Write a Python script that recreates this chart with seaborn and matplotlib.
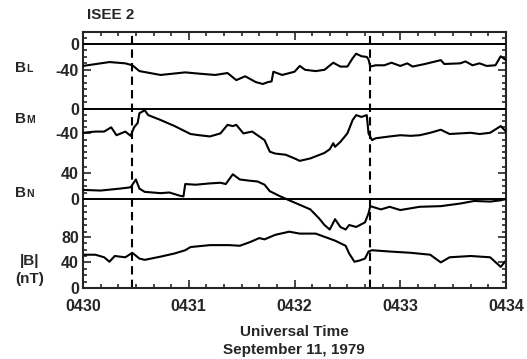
import matplotlib
matplotlib.use("Agg")
import matplotlib.pyplot as plt
import seaborn as sns
from matplotlib.ticker import FixedLocator, FixedFormatter, MultipleLocator

# ---------------- data (time in seconds after 04:30:00 UT, field in nT) -------------
t_bl = [0, 10, 15, 24, 28, 32, 44, 58, 66, 75, 82, 87, 92, 98, 102, 105, 107, 108,
        113, 120, 123, 126, 132, 137, 142, 146, 150, 153, 155, 158, 161, 162, 163,
        166, 171, 175, 180, 184, 187, 194, 203, 205, 214, 217, 221, 225, 229, 234, 237, 240]
bl = [-34, -30, -28, -30, -33, -42, -48, -44, -46, -48, -45, -56, -50, -59, -62, -59, -58, -43,
      -48, -43, -34, -40, -42, -40, -29, -35, -35, -22, -15, -19, -20, -24, -35,
      -33, -33, -29, -34, -30, -35, -31, -25, -31, -30, -27, -33, -30, -34, -33, -19, -25]

t_bm = [0, 7, 12, 16, 19, 24, 27, 29, 31, 32, 35, 37, 44, 52, 61, 66, 72, 78, 82, 85, 87,
        91, 96, 100, 103, 106, 109, 115, 120, 123, 129, 137, 140, 142, 143, 146, 150, 153,
        155, 158, 161, 162, 164, 166, 174, 180, 186, 191, 197, 203, 208, 214, 220, 225,
        231, 237, 240]
bm = [-39, -37, -37, -30, -43, -37, -44, -30, -23, -7, -2, -10, -18, -28, -41, -43, -45, -40,
      -26, -28, -26, -40, -37, -45, -51, -70, -73, -75, -81, -85, -81, -72, -66, -56, -62,
      -54, -40, -18, -10, -13, -10, -40, -51, -48, -45, -43, -44, -43, -39, -34, -41, -40,
      -39, -41, -39, -28, -37]

t_bn = [0, 10, 21, 27, 30, 32, 35, 44, 49, 55, 57, 58, 64, 72, 78, 81, 85, 89, 95, 99, 103,
        106, 112, 117, 123, 129, 134, 137, 140, 143, 146, 149, 151, 155, 160, 162, 163,
        169, 174, 180, 191, 203, 214, 222, 231, 237, 240]
bn = [14, 13, 16, 18, 30, 16, 11, 9, 10, 5, 4, 23, 22, 24, 25, 23, 38, 30, 28, 27, 22,
      12, 4, -2, -9, -16, -30, -40, -47, -31, -43, -47, -40, -43, -36, -22, -11,
      -16, -12, -17, -12, -11, -7, -3, -4, -2, 0]

t_bt = [0, 7, 12, 15, 18, 24, 28, 32, 35, 44, 52, 58, 61, 72, 83, 89, 95, 100, 103, 109,
        117, 123, 132, 137, 143, 149, 151, 154, 157, 160, 162, 164, 174, 186, 197, 203,
        208, 220, 231, 237, 240]
bt = [52, 52, 48, 41, 50, 48, 55, 46, 44, 49, 54, 59, 64, 67, 67, 66, 72, 78, 76, 83,
      88, 85, 85, 80, 74, 66, 54, 41, 43, 46, 57, 59, 57, 55, 52, 40,
      48, 50, 48, 33, 43]

boundaries = [28, 163]
x_ticks = [0, 60, 120, 180, 240]
x_labels = ["0430", "0431", "0432", "0433", "0434"]

# ---------------- layout ----------------
sns.set_style("ticks")
plt.rcParams['font.family'] = ['Liberation Sans', 'DejaVu Sans']
plt.rcParams['font.weight'] = 'bold'
plt.rcParams['axes.unicode_minus'] = False

W, H = 527, 359
fig = plt.figure(figsize=(W / 100, H / 100), dpi=100)
L, R, T, B = 83, 506, 32, 288
rect = [L / W, 1 - B / H, (R - L) / W, (B - T) / H]

panels = [
    dict(t=t_bl, v=bl, zero=44, s=0.645, major=[0, -40], band=(-100, 10), zline=True),
    dict(t=t_bm, v=bm, zero=109, s=0.61, major=[0, -40], band=(-80, -10), zline=True),
    dict(t=t_bn, v=bn, zero=199, s=0.65, major=[40, 0], band=(-50, 50), zline=True),
    dict(t=t_bt, v=bt, zero=288, s=0.64, major=[80, 40, 0], band=(10, 80), zline=False),
]

base = fig.add_axes(rect, label="base")
axes = [fig.add_axes(rect, label=f"p{i}") for i in range(3)] + [base]

for ax, p in zip(axes, panels):
    ax.patch.set_visible(False)
    sns.lineplot(x=p["t"], y=p["v"], ax=ax, color="black", lw=1.5)
    if p["zline"]:
        ax.axhline(0, color="black", lw=1.4)
    ax.set_ylim(-(B - p["zero"]) / p["s"], (p["zero"] - T) / p["s"])
    ax.set_xlim(0, 240)
    ax.set_xlabel("")
    ax.set_ylabel("")
    ax.yaxis.set_major_locator(FixedLocator(p["major"]))
    ax.yaxis.set_major_formatter(FixedFormatter([str(m) for m in p["major"]]))
    lo, hi = p["band"]
    minors = [m for m in range(lo, hi + 1, 10) if m not in p["major"]]
    ax.yaxis.set_minor_locator(FixedLocator(minors))
    ax.tick_params(axis="y", which="both", direction="in", left=True, right=True,
                   labelleft=True, labelright=False, width=1.2)
    ax.tick_params(axis="y", which="major", length=6, labelsize=11.5, pad=3)
    ax.tick_params(axis="y", which="minor", length=3)
    for lab in ax.get_yticklabels():
        lab.set_fontweight("bold")
    if ax is not base:
        for sp in ax.spines.values():
            sp.set_visible(False)
        ax.tick_params(axis="x", which="both", bottom=False, top=False,
                       labelbottom=False)

for sp in base.spines.values():
    sp.set_visible(True)
    sp.set_linewidth(1.5)
base.set_xticks(x_ticks)
base.set_xticklabels(x_labels, fontweight="bold")
base.xaxis.set_minor_locator(MultipleLocator(10))
base.tick_params(axis="x", which="both", direction="in", top=True, bottom=True, width=1.2)
base.tick_params(axis="x", which="major", length=6, labelsize=11.5, pad=8)
base.tick_params(axis="x", which="minor", length=3)
for b in boundaries:
    base.axvline(b, color="black", lw=1.5, ls=(0, (4, 2.5)))

# ---------------- texts ----------------
def fy(py):
    return 1 - py / H

def comp_label(px, py, main, sub):
    fig.text(px / W, fy(py), main, fontsize=11, fontweight="bold", va="baseline", ha="left")
    fig.text((px + 11) / W, fy(py), sub, fontsize=7.5, fontweight="bold", va="baseline", ha="left")

comp_label(15, 72, "B", "L")
comp_label(15, 123, "B", "M")
comp_label(15, 197, "B", "N")
fig.text(30 / W, fy(265), "|B|", fontsize=11, fontweight="bold", va="baseline", ha="center")
fig.text(30 / W, fy(283), "(nT)", fontsize=11, fontweight="bold", va="baseline", ha="center")

fig.text(87 / W, fy(19), "ISEE 2", fontsize=11, fontweight="bold", va="baseline", ha="left")
fig.text(294 / W, fy(336), "Universal Time", fontsize=11, fontweight="bold", va="baseline", ha="center")
fig.text(294 / W, fy(354), "September 11, 1979", fontsize=11, fontweight="bold", va="baseline", ha="center")

fig.savefig("out.png", dpi=100)
